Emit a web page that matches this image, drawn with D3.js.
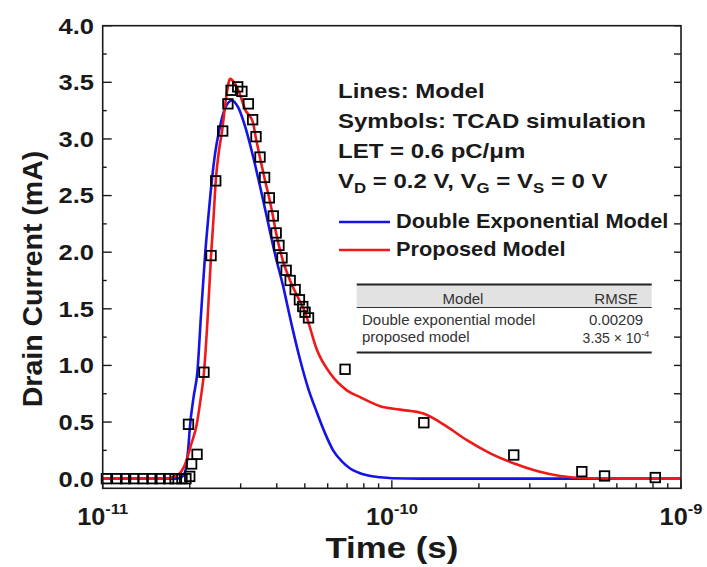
<!DOCTYPE html>
<html><head><meta charset="utf-8">
<script src="https://cdn.jsdelivr.net/npm/d3@7"></script>
<style>body{margin:0;background:#fff}svg{display:block}</style>
</head><body>
<svg id="c" width="707" height="567"></svg>
<script>
// ---- data ----
const symTime = [1.03e-11,1.12e-11,1.20e-11,1.28e-11,1.38e-11,1.48e-11,1.58e-11,1.69e-11,1.78e-11,1.88e-11,1.94e-11,
  2.00e-11,2.03e-11,2.12e-11,1.98e-11,2.24e-11,2.37e-11,2.46e-11,2.60e-11,2.71e-11,2.78e-11,2.93e-11,3.03e-11,
  3.19e-11,3.30e-11,3.39e-11,3.50e-11,3.63e-11,3.77e-11,3.89e-11,3.98e-11,4.07e-11,4.17e-11,4.31e-11,4.45e-11,
  4.63e-11,4.79e-11,4.92e-11,5.01e-11,5.15e-11,6.89e-11,1.29e-10,2.64e-10,4.54e-10,5.44e-10,8.15e-10];
const symCurrent = [0,0,0,0,0,0,0,0,0,0,0,
  0.02,0.13,0.215,0.48,0.94,1.97,2.63,3.07,3.31,3.43,3.46,3.42,
  3.31,3.17,3.02,2.84,2.66,2.48,2.32,2.17,2.06,1.95,1.84,1.75,
  1.67,1.58,1.52,1.47,1.42,0.966,0.494,0.209,0.062,0.024,0.01];

const dexpTime = [1e-11,1.71e-11,1.851e-11,1.927e-11,1.974e-11,2.005e-11,2.062e-11,2.125e-11,2.188e-11,2.259e-11,
  2.323e-11,2.384e-11,2.447e-11,2.526e-11,2.65e-11,2.795e-11,2.939e-11,3.108e-11,3.286e-11,3.502e-11,3.703e-11,
  3.947e-11,4.207e-11,4.483e-11,4.816e-11,5.133e-11,5.514e-11,5.877e-11,6.265e-11,6.73e-11,7.172e-11,7.645e-11,
  8.214e-11,9.11e-11,1.002e-10,1.253e-10,1e-9];
const dexpCurrent = [0,0,0.005,0.06,0.25,0.47,0.72,0.94,1.45,1.97,
  2.33,2.63,2.87,3.07,3.27,3.34,3.28,3.11,2.88,2.58,2.30,
  1.98,1.70,1.38,1.05,0.80,0.58,0.40,0.25,0.15,0.09,0.055,
  0.03,0.012,0.004,0,0];

const propTime = [1e-11,1.643e-11,1.737e-11,1.851e-11,1.942e-11,2.021e-11,2.115e-11,2.18e-11,2.241e-11,2.304e-11,
  2.37e-11,2.417e-11,2.46e-11,2.526e-11,2.587e-11,2.671e-11,2.757e-11,2.846e-11,2.986e-11,3.108e-11,3.304e-11,
  3.392e-11,3.502e-11,3.63e-11,3.772e-11,3.885e-11,3.978e-11,4.173e-11,4.447e-11,4.777e-11,5.012e-11,5.145e-11,
  5.502e-11,6.117e-11,6.987e-11,7.769e-11,9.11e-11,1.068e-10,1.286e-10,1.55e-10,1.818e-10,2.189e-10,2.635e-10,
  3.175e-10,3.823e-10,4.729e-10,6.166e-10,1e-9];
const propCurrent = [0,0,0.01,0.05,0.15,0.30,0.48,0.70,0.94,1.40,
  1.97,2.30,2.63,2.90,3.07,3.36,3.53,3.50,3.39,3.26,3.15,
  3.00,2.83,2.65,2.47,2.31,2.17,1.95,1.75,1.58,1.47,1.38,
  1.14,0.93,0.78,0.72,0.64,0.61,0.575,0.46,0.34,0.224,0.136,
  0.068,0.024,0.004,0,0];

const yTicks = [0,0.5,1.0,1.5,2.0,2.5,3.0,3.5,4.0];
const xTickExps = [-11,-10,-9];
const legendLines = ["Lines: Model","Symbols: TCAD simulation","LET = 0.6 pC/\u03bcm"];
const seriesNames = ["Double Exponential Model","Proposed Model"];
const tableHeader = ["Model","RMSE"];
const tableRows = [["Double exponential model","0.00209"],["proposed model","3.35 \u00d7 10","-4"]];

// ---- layout ----
const L=102.7, R=681, T=25.7, B=488.3;
const x = d3.scaleLog().domain([1e-11,1e-9]).range([L,R]);
const y = d3.scaleLinear().domain([-0.085,4.0]).range([B,T]);
const svg = d3.select("#c");
const FONT = "'Liberation Sans', Arial, Helvetica, sans-serif";
const blue = "#1414e6", red = "#ee1a1a", ink = "#1a1a1a";

// ticks
const g = svg.append("g");
const yMinor = d3.range(0,4.01,0.25);
yMinor.forEach(v=>{
  const major = Math.abs(v*2-Math.round(v*2))<1e-6;
  g.append("line").attr("x1",L).attr("x2",L+(major?9:4)).attr("y1",y(v)).attr("y2",y(v)).attr("stroke",ink).attr("stroke-width",1.4);
  g.append("line").attr("x1",R).attr("x2",R-7).attr("y1",y(v)).attr("y2",y(v)).attr("stroke",ink).attr("stroke-width",1.4);
});
const xMinor = [];
[-11,-10].forEach(e=>{for(let k=1;k<10;k++) xMinor.push(k*Math.pow(10,e));});
xMinor.push(1e-9);
xMinor.forEach(v=>{
  const major = Math.abs(Math.log10(v)-Math.round(Math.log10(v)))<1e-6;
  g.append("line").attr("x1",x(v)).attr("x2",x(v)).attr("y1",B).attr("y2",B-(major?8:5)).attr("stroke",ink).attr("stroke-width",1.4);
});

// y tick labels
svg.append("g").selectAll("text").data(yTicks).join("text")
  .attr("transform",d=>`translate(94,${y(d)}) scale(1.16,1)`).attr("dy","0.36em")
  .attr("text-anchor","end").attr("font-family",FONT).attr("font-weight","bold")
  .attr("font-size",22).attr("fill",ink).text(d=>d.toFixed(1));

// x tick labels
const xl = svg.append("g").selectAll("text").data(xTickExps).join("text")
  .attr("transform",d=>`translate(${x(Math.pow(10,d))},525) scale(1.1,1)`)
  .attr("text-anchor","middle").attr("font-family",FONT).attr("font-weight","bold")
  .attr("font-size",23).attr("fill",ink);
xl.append("tspan").text("10");
xl.append("tspan").attr("dy",-11).attr("font-size",15).text(d=>String(d));

// axis titles
svg.append("text").attr("transform",`translate(${(L+R)/2},558) scale(1.2,1)`).attr("text-anchor","middle")
  .attr("font-family",FONT).attr("font-weight","bold").attr("font-size",29).attr("fill",ink).text("Time (s)");
svg.append("text").attr("transform",`translate(42,279) rotate(-90)`).attr("text-anchor","middle")
  .attr("font-family",FONT).attr("font-weight","bold").attr("font-size",28.5).attr("fill",ink).text("Drain Current (mA)");

// lines
const line = d3.line().x(d=>x(d[0])).y(d=>y(d[1])).curve(d3.curveMonotoneX);
svg.append("path").datum(d3.zip(dexpTime,dexpCurrent)).attr("d",line)
  .attr("fill","none").attr("stroke",blue).attr("stroke-width",2.6);
svg.append("path").datum(d3.zip(propTime,propCurrent)).attr("d",line)
  .attr("fill","none").attr("stroke",red).attr("stroke-width",2.6);

// symbols
const S=9.5;
svg.append("g").selectAll("rect").data(d3.zip(symTime,symCurrent)).join("rect")
  .attr("x",d=>x(d[0])-S/2).attr("y",d=>y(d[1])-S/2).attr("width",S).attr("height",S)
  .attr("fill","none").attr("stroke","#000").attr("stroke-width",1.8);

// frame
svg.append("rect").attr("x",L).attr("y",T).attr("width",R-L).attr("height",B-T)
  .attr("fill","none").attr("stroke",ink).attr("stroke-width",1.6);

// annotation
const AX=338, AF=20;
const ann = svg.append("g").attr("font-family",FONT).attr("font-weight","bold").attr("font-size",AF).attr("fill",ink);
function stretched(xp,yp,sx){return ann.append("text").attr("transform",`translate(${xp},${yp}) scale(${sx},1)`);}
legendLines.forEach((t,i)=>stretched(AX,98+i*30,1.2).text(t));
const vt = stretched(AX,188,1.2);
[["V",0],["D",1],[" = 0.2 V, V",0],["G",1],[" = V",0],["S",1],[" = 0 V",0]].forEach(([t,sub],i,arr)=>{
  const prevSub = i>0 ? arr[i-1][1] : 0;
  const dy = sub && !prevSub ? 5 : (!sub && prevSub ? -5 : 0);
  vt.append("tspan").attr("dy",dy).attr("font-size",sub?14:AF).text(t);
});
// series legend
[[blue,222,seriesNames[0]],[red,250,seriesNames[1]]].forEach(([c,yy,name])=>{
  svg.append("line").attr("x1",AX+1).attr("x2",390).attr("y1",yy).attr("y2",yy).attr("stroke",c).attr("stroke-width",2.6);
  stretched(396,yy+6,1.09).text(name);
});

// table
const TL=356.7, TR=651.7;
const tb = svg.append("g").attr("font-family",FONT).attr("font-size",15).attr("fill","#333");
tb.append("rect").attr("x",TL).attr("y",285).attr("width",TR-TL).attr("height",22.5).attr("fill","#e2e2e2");
tb.append("line").attr("x1",TL).attr("x2",TR).attr("y1",284.5).attr("y2",284.5).attr("stroke","#222").attr("stroke-width",2);
tb.append("line").attr("x1",TL).attr("x2",TR).attr("y1",307.5).attr("y2",307.5).attr("stroke","#333").attr("stroke-width",1.2);
tb.append("line").attr("x1",TL).attr("x2",TR).attr("y1",352.5).attr("y2",352.5).attr("stroke","#222").attr("stroke-width",2);
tb.append("text").attr("x",463).attr("y",304).attr("text-anchor","middle").text(tableHeader[0]);
tb.append("text").attr("x",616).attr("y",304).attr("text-anchor","middle").text(tableHeader[1]);
tb.append("text").attr("x",362).attr("y",325).text(tableRows[0][0]);
tb.append("text").attr("x",616).attr("y",325).attr("text-anchor","middle").text(tableRows[0][1]);
tb.append("text").attr("x",362).attr("y",342).text(tableRows[1][0]);
const r2 = tb.append("text").attr("x",616).attr("y",343).attr("text-anchor","middle");
r2.append("tspan").attr("font-size",14).text(tableRows[1][1]);
r2.append("tspan").attr("dy",-6).attr("font-size",9).text(tableRows[1][2]);
</script>
</body></html>
